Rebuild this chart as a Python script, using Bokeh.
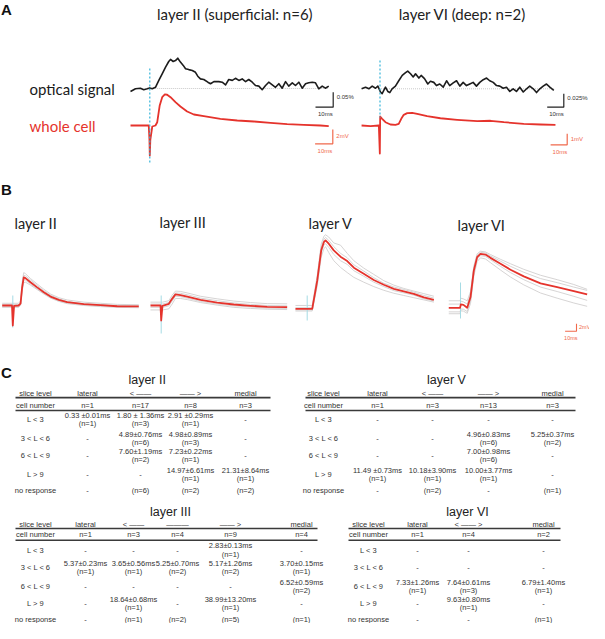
import numpy as np
from collections import defaultdict
from bokeh.plotting import figure
from bokeh.models import Range1d, ColumnDataSource
from bokeh.core.properties import value
from bokeh.embed import file_html
from bokeh.resources import INLINE

# ======================= DATA =======================
# Panel A, layer II (superficial: n=6); time from stimulus in ms
a2_opt_t = [-10.9, -8.1, -5.3, -3.4, -1.5, 0.0, 1.4, 3.2, 5.1, 7.0,
            8.9, 10.7, 11.7, 13.2, 14.5, 15.8, 17.3, 18.9, 20.2, 22.0,
            24.0, 25.8, 27.1, 28.6, 30.5, 32.8, 34.3, 36.2, 39.0, 40.9,
            42.8, 44.6, 46.6, 48.4, 50.3, 52.2, 54.1, 55.9, 57.9, 59.7,
            61.6, 63.5, 65.4, 67.2, 69.2, 71.0, 72.9, 74.8, 76.7, 78.5,
            80.5, 82.3, 84.2, 86.1, 88.0, 89.8, 91.8, 93.6, 95.5, 97.4,
            99.2, 101.1]
a2_opt_v = [-0.010, -0.001, 0.001, -0.004, -0.001, 0.002, -0.001, 0.004, 0.027, 0.049,
            0.071, 0.090, 0.097, 0.090, 0.093, 0.101, 0.088, 0.077, 0.066, 0.063,
            0.060, 0.054, 0.041, 0.032, 0.030, 0.021, 0.016, 0.023, 0.023, 0.021,
            0.012, 0.030, 0.027, 0.034, 0.027, 0.032, 0.023, 0.030, 0.021, 0.010,
            0.008, -0.004, 0.010, 0.021, 0.012, 0.004, 0.016, 0.001, 0.023, 0.008,
            0.019, 0.010, 0.021, 0.001, 0.016, 0.019, 0.021, 0.019, -0.001, 0.008,
            0.001, 0.008]                      # dF/F (%)
a2_wc_t = [-10.9, -0.6, -0.2, 0.0, 0.3, 1.4, 3.2, 4.2, 5.6, 7.0,
           8.5, 9.8, 11.7, 14.5, 17.3, 21.1, 24.9, 30.5, 39.9, 49.4,
           58.8, 68.2, 77.6, 87.0, 96.4, 101.1]
a2_wc_v = [0, 0, -2.0, -4.2, -2.0, -0.14, 0, 0.46, 2.8, 3.96,
           4.34, 4.3, 3.96, 3.26, 2.66, 1.96, 1.54, 1.3, 0.94, 0.7,
           0.56, 0.38, 0.2, 0.1, 0, -0.1]       # mV

# Panel A, layer VI (deep: n=2)
a6_opt_t = [-11.1, -8.7, -6.7, -4.7, -2.7, -1.3, 0.3, 1.3, 3.3, 4.7,
            5.9, 7.3, 9.3, 11.3, 13.4, 15.4, 16.7, 18.4, 20.0, 21.4,
            23.4, 24.8, 26.8, 28.8, 30.4, 32.4, 34.0, 36.0, 38.1, 40.1,
            42.0, 44.1, 46.1, 48.1, 50.1, 52.1, 54.1, 56.1, 58.1, 60.1,
            62.2, 64.2, 66.1, 68.2, 70.2, 72.2, 74.2, 76.2, 78.2, 80.2,
            82.2, 84.2, 86.3, 88.3, 90.2, 92.3, 94.3, 96.3, 98.3, 100.3,
            102.3, 104.7]
a6_opt_v = [0, 0.003, 0, 0.005, 0.001, 0.005, -0.006, -0.009, 0.003, -0.005,
            -0.007, 0, 0.005, 0.015, 0.025, 0.030, 0.033, 0.028, 0.022, 0.028,
            0.020, 0.025, 0.019, 0.009, 0.014, 0.012, 0.006, 0.009, 0.003, 0.015,
            0.006, 0.011, 0.015, 0.005, 0.012, 0.006, 0.009, 0.012, 0.005, 0.012,
            0.017, 0.020, 0.015, 0.012, 0.006, 0.005, 0.001, 0.003, -0.005, 0,
            -0.005, 0.003, -0.006, 0, 0.005, 0, -0.007, 0, 0.005, 0.009,
            0.003, -0.003]
a6_wc_t = [-11.1, -5.7, -0.7, -0.1, 0.1, 1.3, 3.3, 6.3, 9.3, 11.3,
           12.8, 14.3, 16.4, 19.4, 22.4, 28.4, 36.4, 46.5, 58.6, 66.6,
           74.6, 86.6, 96.7, 105.7]
a6_wc_v = [0, -0.06, 0, -2.55, 0.82, 0.61, 0.3, 0.09, 0.06, 0.15,
           0.61, 0.97, 1.12, 1.15, 1.06, 0.85, 0.66, 0.52, 0.39, 0.43,
           0.3, 0.15, 0.09, 0.06]

# Panel B: mean (red) and single-cell (grey) responses, mV
b_names = ["layer II", "layer III", "layer V", "layer VI"]
b2_t = [-9.3, -0.7, 0, 1.1, 5, 6.8, 8.2, 9.6, 11.1, 15.5, 21.4, 27.2, 33.1, 40.4, 47.7, 62.3, 76.9, 91.6, 110.5]
b2_mean = [0, 0, -5.4, -0.1, 0, 0.5, 4.9, 7.6, 7.4, 6.3, 4.9, 3.6, 2.4, 1.5, 0.9, 0.35, 0.1, -0.2, -0.25]
b2_cells = [
    [0.6, 0.6, 0.6, 0.6, 0.6, 1.2, 6.2, 8.9, 8.6, 7.3, 5.8, 4.4, 3.1, 2.1, 1.5, 0.9, 0.6, 0.3, 0.2],
    [-0.5, -0.5, -0.5, -0.5, -0.5, 0.0, 3.9, 6.2, 6.3, 5.5, 4.3, 3.1, 2.0, 1.1, 0.5, 0.0, -0.3, -0.5, -0.6],
    [0.2, 0.2, 0.2, 0.2, 0.2, 0.7, 5.3, 8.2, 8.0, 6.9, 5.4, 4.0, 2.8, 1.8, 1.1, 0.5, 0.3, 0.0, -0.1],
    [-0.2, -0.2, -0.2, -0.2, -0.2, 0.3, 4.4, 7.0, 6.9, 5.8, 4.5, 3.3, 2.2, 1.3, 0.7, 0.2, -0.1, -0.3, -0.4],
]
b3_t = [-9.4, -0.6, 0, 1.1, 6.7, 9.6, 12.5, 16.9, 22.8, 34.5, 49.1, 63.7, 78.3, 93.0, 110.5]
b3_mean = [0, 0, -4.05, -0.1, 0.46, 1.8, 3.0, 2.8, 2.4, 1.5, 0.8, 0.27, -0.08, -0.35, -0.46]
b3_cells = [
    [0.9, 0.9, 0.9, 0.9, 1.3, 2.8, 3.9, 3.8, 3.4, 2.5, 1.8, 1.2, 0.8, 0.5, 0.45],
    [-1.2, -1.2, -1.2, -1.2, -0.9, 0.4, 1.9, 1.9, 1.6, 0.8, 0.1, -0.5, -0.8, -1.0, -1.1],
    [0.4, 0.4, 0.4, 0.4, 0.8, 2.2, 3.4, 3.3, 2.9, 2.0, 1.3, 0.7, 0.3, 0.0, -0.1],
    [-0.5, -0.5, -0.5, -0.5, -0.1, 1.2, 2.5, 2.4, 2.0, 1.1, 0.4, -0.1, -0.4, -0.7, -0.8],
]
b5_t = [-10.3, -0.6, 4.4, 8.8, 12.3, 14.6, 16.1, 18.9, 23.3, 29.2, 35.1, 40.9, 49.6, 58.4, 67.2, 76.0, 84.7, 93.5, 102.3, 111.1]
b5_mean = [0, 0, 0, 7.6, 15.8, 18.0, 18.5, 17.6, 15.8, 14.1, 12.9, 11.1, 9.5, 7.8, 6.5, 5.4, 4.7, 4.05, 3.1, 2.4]
b5_cells = [
    [0.9, 0.9, 0.9, 9.0, 17.5, 19.6, 20.0, 19.4, 17.8, 17.2, 15.0, 13.0, 11.0, 9.3, 7.6, 6.4, 5.5, 4.8, 4.1, 3.4],
    [-0.6, -0.6, -0.6, 6.2, 14.0, 16.2, 16.8, 15.2, 13.0, 11.2, 9.8, 8.5, 7.2, 6.0, 5.0, 4.2, 3.6, 3.0, 2.4, 1.8],
    [0.3, 0.3, 0.3, 8.2, 16.6, 18.8, 19.3, 18.5, 16.8, 15.0, 13.8, 11.9, 10.2, 8.4, 6.9, 5.9, 5.2, 4.5, 3.6, 2.9],
    [-0.3, -0.3, -0.3, 7.0, 15.2, 17.2, 17.6, 16.6, 14.7, 13.0, 12.0, 10.3, 8.8, 7.2, 6.0, 4.9, 4.3, 3.7, 2.7, 2.1],
]
b6_t = [-10.3, -0.4, 0.3, 2.6, 5.9, 8.8, 11.7, 14.6, 17.5, 21.9, 26.3, 35.1, 43.9, 55.5, 70.2, 84.8, 99.4, 111.1]
b6_mean = [0, 0, 0.9, 0.8, 0, 2.9, 10.1, 13.7, 14.6, 14.4, 13.5, 11.9, 10.3, 8.5, 6.6, 5.6, 4.5, 3.6]
b6_cells = [
    [1.9, 1.9, 2.6, 2.4, 1.9, 4.4, 11.3, 14.6, 15.3, 15.1, 14.4, 13.1, 11.9, 10.4, 8.8, 7.6, 6.3, 5.0],
    [-1.6, -1.6, -0.8, -0.9, -1.5, 1.2, 8.6, 12.5, 13.5, 13.2, 12.2, 10.2, 8.3, 6.2, 4.0, 2.6, 1.3, 0.4],
    [-1.1, -1.1, -0.3, -0.4, -1.0, 2.0, 9.4, 13.2, 14.1, 13.9, 13.0, 11.2, 9.5, 7.6, 5.6, 4.4, 3.1, 2.0],
    [1.0, 1.0, 1.8, 1.6, 1.0, 3.6, 10.8, 14.2, 15.0, 14.8, 14.0, 12.6, 11.2, 9.6, 7.9, 6.8, 5.6, 4.7],
]

# Scale-bar values
bar_ms = 10
a2_bar_opt, a2_bar_wc = 0.05, 2      # %, mV
a6_bar_opt, a6_bar_wc = 0.025, 1
b_bar_mv = 2

# Panel C tables
row_labels = ["L < 3", "3 < L < 6", "6 < L < 9", "L > 9", "no response"]
t2_title = "layer II"
t2_header = ["slice level", "lateral", "< \u2014\u2014", "\u2014\u2014 >", "medial"]
t2_cells = ["n=1", "n=17", "n=8", "n=3"]
t2_rows = [
    ["0.33 \u00b10.01ms|(n=1)", "1.80 \u00b1 1.36ms|(n=3)", "2.91 \u00b10.29ms|(n=1)", "-"],
    ["-", "4.89\u00b10.76ms|(n=6)", "4.98\u00b10.89ms|(n=3)", "-"],
    ["-", "7.60\u00b11.19ms|(n=2)", "7.23\u00b10.22ms|(n=1)", "-"],
    ["-", "-", "14.97\u00b16.61ms|(n=1)", "21.31\u00b18.64ms|(n=1)"],
    ["-", "(n=6)", "(n=2)", "(n=2)"],
]
t5_title = "layer V"
t5_header = ["slice level", "lateral", "< \u2014\u2014", "\u2014\u2014 >", "medial"]
t5_cells = ["n=1", "n=3", "n=13", "n=3"]
t5_rows = [
    ["-", "-", "-", "-"],
    ["-", "-", "4.96\u00b10.83ms|(n=6)", "5.25\u00b10.37ms|(n=2)"],
    ["-", "-", "7.00\u00b10.98ms|(n=6)", "-"],
    ["11.49 \u00b10.73ms|(n=1)", "10.18\u00b13.90ms|(n=1)", "10.00\u00b13.77ms|(n=1)", "-"],
    ["-", "(n=2)", "-", "(n=1)"],
]
t3_title = "layer III"
t3_header = ["slice level", "lateral", "< \u2014\u2014", "\u2014\u2014\u2014", "\u2014\u2014 >", "medial"]
t3_cells = ["n=1", "n=3", "n=4", "n=9", "n=4"]
t3_rows = [
    ["-", "-", "-", "2.83\u00b10.13ms|(n=1)", "-"],
    ["5.37\u00b10.23ms|(n=1)", "3.65\u00b10.56ms|(n=1)", "5.25\u00b10.70ms|(n=2)", "5.17\u00b11.26ms|(n=2)", "3.70\u00b10.15ms|(n=1)"],
    ["-", "-", "-", "-", "6.52\u00b10.59ms|(n=2)"],
    ["-", "18.64\u00b10.68ms|(n=1)", "-", "38.99\u00b113.20ms|(n=1)", "-"],
    ["-", "(n=1)", "(n=2)", "(n=5)", "(n=1)"],
]
t6_title = "layer VI"
t6_header = ["slice level", "lateral", "< \u2014\u2014 >", "medial"]
t6_cells = ["n=1", "n=4", "n=2"]
t6_rows = [
    ["-", "-", "-"],
    ["-", "-", "-"],
    ["7.33\u00b11.26ms|(n=1)", "7.64\u00b10.61ms|(n=3)", "6.79\u00b11.40ms|(n=1)"],
    ["-", "9.63\u00b10.80ms|(n=1)", "-"],
    ["-", "-", "(n=1)"],
]

# ======================= STYLE / LAYOUT =======================
RED = "#e5332c"
BLACK = "#1c1c1c"
CYAN = "#35b4d9"
CYAN_L = "#a6dbe4"
GREY = "#d2cfcf"
SRED = "#f0694c"
TXT = "#333333"
SANS = "Lato"
ARIAL = "Liberation Sans"

W, H = 589, 623
p = figure(width=W, height=H, x_range=Range1d(0, W), y_range=Range1d(H, 0),
           output_backend="svg", toolbar_location=None, min_border=0,
           x_axis_location=None, y_axis_location=None)
p.grid.visible = False
p.outline_line_color = None
p.background_fill_color = "white"
p.border_fill_color = "white"

texts = defaultdict(lambda: {"x": [], "y": [], "text": []})


def T(x, y, s, size, color=TXT, font=ARIAL, align="center", style="normal"):
    d = texts[(font, size, color, align, style)]
    d["x"].append(x)
    d["y"].append(y)
    d["text"].append(s)


def place(t, v, x0, y0, sx, sy):
    return x0 + np.asarray(t, float) * sx, y0 - np.asarray(v, float) * sy


# ---------- Panel A ----------
T(6, 9, "A", 15, color="#111111", style="bold")
T(234.5, 13, "layer II (superficial: n=6)", 15, color="#222222", font=SANS)
T(462, 13, "layer VI (deep: n=2)", 15, color="#222222", font=SANS, align="center")
T(29, 88, "optical signal", 15, color="#1a1a1a", font=SANS, align="left")
T(29, 125, "whole cell", 15, color=RED, font=SANS, align="left")

A_panels = [
    dict(x0=149.3, yo=88.0, yw=125.0, sx=1.77, so=300.0, sw=7.15,
         ot=a2_opt_t, ov=a2_opt_v, wt=a2_wc_t, wv=a2_wc_v,
         cy=(68, 162), bo=a2_bar_opt, bw=a2_bar_wc,
         cbo=(332.7, 106.7), cbw=(332.3, 143.3)),
    dict(x0=379.5, yo=88.3, yw=125.0, sx=1.66, so=536.0, sw=11.0,
         ot=a6_opt_t, ov=a6_opt_v, wt=a6_wc_t, wv=a6_wc_v,
         cy=(60, 117), bo=a6_bar_opt, bw=a6_bar_wc,
         cbo=(563.3, 106.7), cbw=(566.7, 144.3)),
]
for a in A_panels:
    xo, yo = place(a["ot"], a["ov"], a["x0"], a["yo"], a["sx"], a["so"])
    p.line([a["x0"] - 1, xo[-1]], [a["yo"], a["yo"]], line_color="#c9c9c9", line_width=1, line_dash="1 1")
    p.line(xo, yo, line_color=BLACK, line_width=1.6, line_join="round")
    xw, yw = place(a["wt"], a["wv"], a["x0"], a["yw"], a["sx"], a["sw"])
    p.line(xw, yw, line_color=RED, line_width=1.8, line_join="round")
    p.line([a["x0"], a["x0"]], list(a["cy"]), line_color=CYAN, line_width=1.2, line_dash="2 2")
    # scale bars
    cx, cy = a["cbo"]
    hl = bar_ms * a["sx"]
    vl = a["bo"] * a["so"]
    p.line([cx - hl, cx, cx], [cy, cy, cy - vl], line_color="#222222", line_width=1.2)
    T(cx + 3.5, cy - vl * 0.65, f"{a['bo']}%", 6, color="#333333", align="left")
    T(cx - hl / 2 + 1, cy + 6.5, f"{bar_ms}ms", 6, color="#333333")
    cx, cy = a["cbw"]
    vl = a["bw"] * a["sw"]
    hl2 = bar_ms * a["sx"]
    p.line([cx - hl2, cx, cx], [cy, cy, cy - vl], line_color=SRED, line_width=1.2)
    T(cx + 3.5, cy - vl * 0.55, f"{a['bw']}mV", 6, color=SRED, align="left")
    T(cx - hl2 / 2 + 1, cy + 7, f"{bar_ms}ms", 6, color=SRED)

# ---------- Panel B ----------
T(6, 189, "B", 15, color="#111111", style="bold")
B_sx, B_sy = 1.14, 3.7
B_panels = [
    dict(x0=12.3, y0=305.0, cy=(295, 327), lx=14, ly=223, t=b2_t, m=b2_mean, c=b2_cells),
    dict(x0=160.7, y0=305.0, cy=(295, 333), lx=159, ly=222, t=b3_t, m=b3_mean, c=b3_cells),
    dict(x0=306.7, y0=308.3, cy=(295, 320), lx=308, ly=223, t=b5_t, m=b5_mean, c=b5_cells),
    dict(x0=460.0, y0=307.3, cy=(282, 318), lx=457, ly=225, t=b6_t, m=b6_mean, c=b6_cells),
]
for name, b in zip(b_names, B_panels):
    T(b["lx"], b["ly"], name, 14.5, color="#222222", font=SANS, align="left")
    for cell in b["c"]:
        xs, ys = place(b["t"], cell, b["x0"], b["y0"], B_sx, B_sy)
        p.line(xs, ys, line_color=GREY, line_width=1, line_alpha=0.9)
    p.line([b["x0"], b["x0"]], list(b["cy"]), line_color=CYAN_L, line_width=1)
    xs, ys = place(b["t"], b["m"], b["x0"], b["y0"], B_sx, B_sy)
    p.line(xs, ys, line_color=RED, line_width=1.8, line_join="round")
bcx, bcy = 576.0, 330.7
bvl = b_bar_mv * B_sy
bhl = bar_ms * B_sx
p.line([bcx - bhl, bcx, bcx], [bcy, bcy, bcy - bvl], line_color=SRED, line_width=1.1)
T(bcx + 2.5, bcy - bvl * 0.55, f"{b_bar_mv}mV", 5.5, color=SRED, align="left")
T(bcx - bhl / 2, bcy + 6.5, f"{bar_ms}ms", 5.5, color=SRED)


# ---------- Panel C ----------
def cy_(y):
    # panel C is squeezed slightly so that its last row fits
    return 365 + (y - 365) * 0.95


T(6, cy_(372.5), "C", 15, color="#111111", style="bold")
top = dict(ty=380, hy=394.3, l1=398.8, cy=406.7, l2=412.3, rows=[422.3, 441.7, 460, 480, 496.7])
bot = dict(ty=519, hy=532.3, l1=536.5, cy=543.3, l2=549, rows=[559.3, 577.7, 597.3, 615.7, 632.3])
tables = [
    (t2_title, t2_header, t2_cells, t2_rows, dict(top, x0=15, x1=270, tx=146.7, cols=[35, 87, 140, 190, 245])),
    (t5_title, t5_header, t5_cells, t5_rows, dict(top, x0=305, x1=575, tx=446, cols=[323, 377, 432, 488, 552])),
    (t3_title, t3_header, t3_cells, t3_rows, dict(bot, x0=15, x1=317, tx=170, cols=[35, 85, 133, 177, 230, 301])),
    (t6_title, t6_header, t6_cells, t6_rows, dict(bot, x0=348, x1=560, tx=467, cols=[368, 417, 468, 543])),
]
FS = 7.5
for title, header, cells, rows, g in tables:
    cols = g["cols"]
    T(g["tx"], cy_(g["ty"]), title, 12.5, color="#222222")
    for c, h in zip(cols, header):
        T(c, cy_(g["hy"]), h, FS)
    l1, l2 = cy_(g["l1"]), cy_(g["l2"])
    p.segment(x0=[g["x0"], g["x0"]], y0=[l1, l2], x1=[g["x1"], g["x1"]], y1=[l1, l2],
              line_color="#3a3a3a", line_width=1.6)
    T(cols[0], cy_(g["cy"]), "cell number", FS)
    for c, v in zip(cols[1:], cells):
        T(c, cy_(g["cy"]), v, FS)
    for ry, lab, row in zip(g["rows"], row_labels, rows):
        ry = cy_(ry)
        T(cols[0], ry, lab, FS)
        for c, v in zip(cols[1:], row):
            parts = v.split("|")
            if len(parts) == 2:
                T(c, ry - 4.1, parts[0], FS)
                T(c, ry + 4.0, parts[1], FS)
            else:
                T(c, ry, v, FS)

for (font, size, color, align, style), d in texts.items():
    if not d["x"]:
        continue
    p.text(x="x", y="y", text="text", source=ColumnDataSource(d),
           text_font=value(font), text_font_size=f"{size}px", text_color=color,
           text_align=align, text_baseline="middle", text_font_style=style)

open("out.html", "w").write(file_html(p, INLINE))
